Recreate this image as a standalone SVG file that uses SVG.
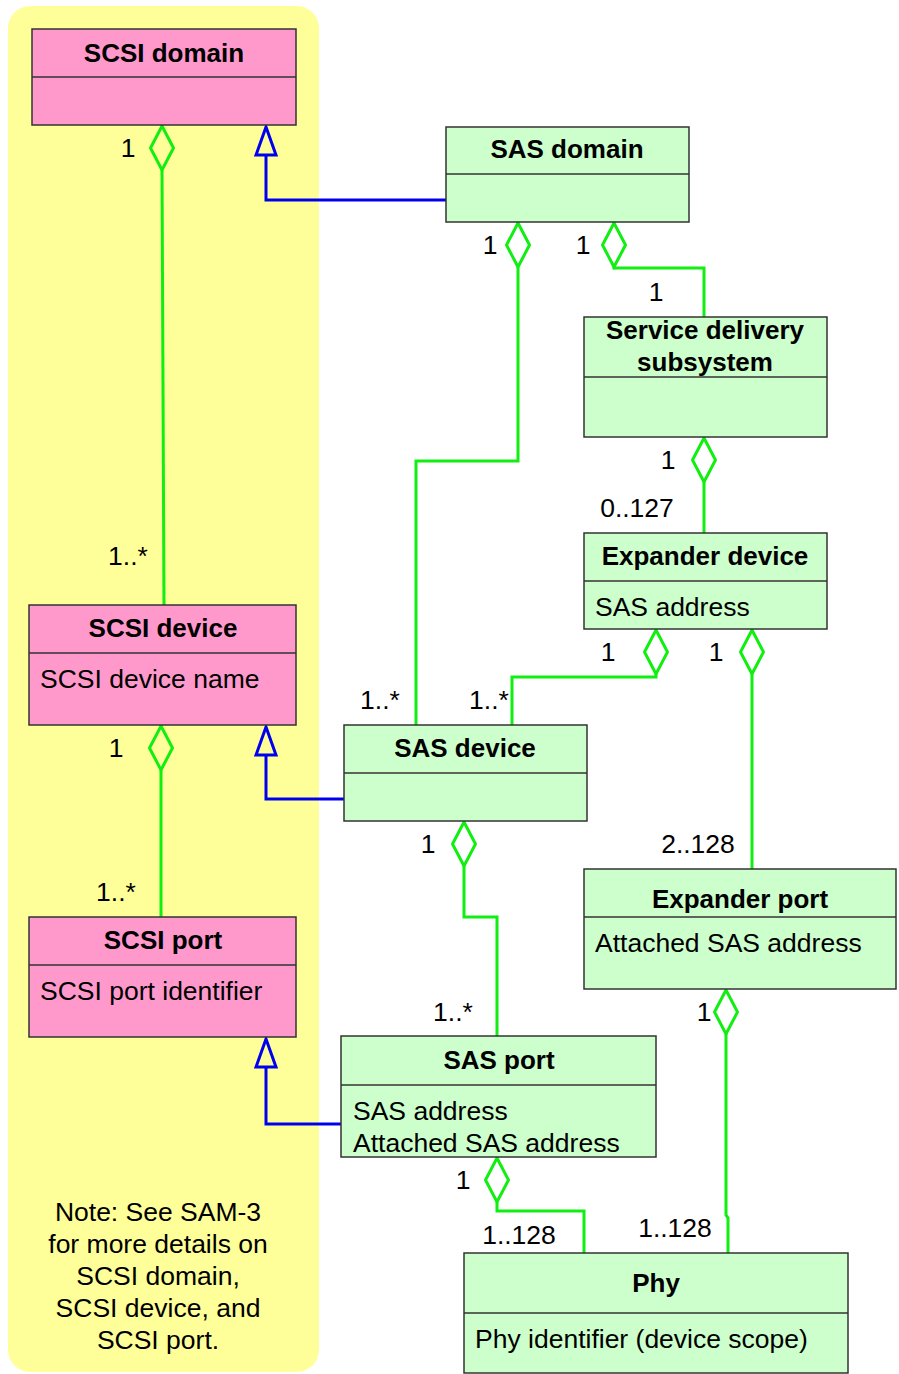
<svg xmlns="http://www.w3.org/2000/svg" width="899" height="1374" viewBox="0 0 899 1374">
<style>
.box{stroke:#333;stroke-width:1.5}
.pink{fill:#FF99CC}
.green{fill:#CCFFCC}
.div{stroke:#333;stroke-width:1.5}
.t{font-family:"Liberation Sans",Arial,sans-serif;font-size:26.5px;fill:#000}
.b{font-weight:bold;text-anchor:middle;font-size:26px}
.m{text-anchor:middle}
.agg{fill:none;stroke:#11EE11;stroke-width:3}
.gen{fill:none;stroke:#0000EE;stroke-width:3}
.dia{fill:none;stroke:#11EE11;stroke-width:3}
.tri{fill:none;stroke:#0000EE;stroke-width:3}
</style>
<rect x="8" y="6" width="311" height="1366" rx="22" fill="#FFFF99"/>
<g id="connectors">
<path class="gen" d="M446,200 H266 V155"/>
<path class="gen" d="M344,799 H266 V755"/>
<path class="gen" d="M341,1124 H266 V1067"/>
<polygon class="tri" points="266,127 256,155 276,155"/>
<polygon class="tri" points="266,727 256,755 276,755"/>
<polygon class="tri" points="266,1039 256,1067 276,1067"/>
<path class="agg" d="M162,170 L164,605"/>
<path class="agg" d="M518,267 V461 H416 V725"/>
<path class="agg" d="M614,267 V268 H704 V317"/>
<path class="agg" d="M704,482 V533"/>
<path class="agg" d="M656,674 V677 H512 V725"/>
<path class="agg" d="M752,674 V869"/>
<path class="agg" d="M464,866 V917 H497 V1036"/>
<path class="agg" d="M161,770 V917"/>
<path class="agg" d="M726,1034 V1215 L728,1218 V1253"/>
<path class="agg" d="M497,1202 V1211 H584 V1253"/>
<polygon class="dia" points="162,126 173.5,148 162,170 150.5,148"/>
<polygon class="dia" points="518,223 529.5,245 518,267 506.5,245"/>
<polygon class="dia" points="614,223 625.5,245 614,267 602.5,245"/>
<polygon class="dia" points="704,438 715.5,460 704,482 692.5,460"/>
<polygon class="dia" points="656,630 667.5,652 656,674 644.5,652"/>
<polygon class="dia" points="752,630 763.5,652 752,674 740.5,652"/>
<polygon class="dia" points="161,726 172.5,748 161,770 149.5,748"/>
<polygon class="dia" points="464,822 475.5,844 464,866 452.5,844"/>
<polygon class="dia" points="726,990 737.5,1012 726,1034 714.5,1012"/>
<polygon class="dia" points="497,1158 508.5,1180 497,1202 485.5,1180"/>
<g class="t m">
<text x="128" y="157">1</text>
<text x="128" y="565">1..*</text>
<text x="490" y="254">1</text>
<text x="583" y="254">1</text>
<text x="656" y="301">1</text>
<text x="668" y="469">1</text>
<text x="637" y="517">0..127</text>
<text x="608" y="661">1</text>
<text x="716" y="661">1</text>
<text x="380" y="709">1..*</text>
<text x="489" y="709">1..*</text>
<text x="116" y="757">1</text>
<text x="428" y="853">1</text>
<text x="698" y="853">2..128</text>
<text x="116" y="901">1..*</text>
<text x="453" y="1021">1..*</text>
<text x="704" y="1021">1</text>
<text x="463" y="1189">1</text>
<text x="519" y="1244">1..128</text>
<text x="675" y="1237">1..128</text>
</g>
</g>
<g id="scsi-domain">
<rect class="box pink" x="32" y="29" width="264" height="96"/>
<line class="div" x1="32" y1="77" x2="296" y2="77"/>
<text class="t b" x="164" y="62">SCSI domain</text>
</g>
<g id="sas-domain">
<rect class="box green" x="446" y="127" width="243" height="95"/>
<line class="div" x1="446" y1="174" x2="689" y2="174"/>
<text class="t b" x="567" y="158">SAS domain</text>
</g>
<g id="service-delivery-subsystem">
<rect class="box green" x="584" y="317" width="243" height="120"/>
<line class="div" x1="584" y1="377" x2="827" y2="377"/>
<text class="t b" x="705" y="339">Service delivery</text>
<text class="t b" x="705" y="371">subsystem</text>
</g>
<g id="expander-device">
<rect class="box green" x="584" y="533" width="243" height="96"/>
<line class="div" x1="584" y1="581" x2="827" y2="581"/>
<text class="t b" x="705" y="565">Expander device</text>
<text class="t" x="595" y="616">SAS address</text>
</g>
<g id="scsi-device">
<rect class="box pink" x="29" y="605" width="267" height="120"/>
<line class="div" x1="29" y1="653" x2="296" y2="653"/>
<text class="t b" x="163" y="637">SCSI device</text>
<text class="t" x="40" y="688">SCSI device name</text>
</g>
<g id="sas-device">
<rect class="box green" x="344" y="725" width="243" height="96"/>
<line class="div" x1="344" y1="773" x2="587" y2="773"/>
<text class="t b" x="465" y="757">SAS device</text>
</g>
<g id="scsi-port">
<rect class="box pink" x="29" y="917" width="267" height="120"/>
<line class="div" x1="29" y1="965" x2="296" y2="965"/>
<text class="t b" x="163" y="949">SCSI port</text>
<text class="t" x="40" y="1000">SCSI port identifier</text>
</g>
<g id="expander-port">
<rect class="box green" x="584" y="869" width="312" height="120"/>
<line class="div" x1="584" y1="917" x2="896" y2="917"/>
<text class="t b" x="740" y="908">Expander port</text>
<text class="t" x="595" y="952">Attached SAS address</text>
</g>
<g id="sas-port">
<rect class="box green" x="341" y="1036" width="315" height="121"/>
<line class="div" x1="341" y1="1085" x2="656" y2="1085"/>
<text class="t b" x="499" y="1069">SAS port</text>
<text class="t" x="353" y="1120">SAS address</text>
<text class="t" x="353" y="1152">Attached SAS address</text>
</g>
<g id="phy">
<rect class="box green" x="464" y="1253" width="384" height="120"/>
<line class="div" x1="464" y1="1313" x2="848" y2="1313"/>
<text class="t b" x="656" y="1292">Phy</text>
<text class="t" x="475" y="1348">Phy identifier (device scope)</text>
</g>
<g id="note" class="t m">
<text x="158" y="1221">Note: See SAM-3</text>
<text x="158" y="1253">for more details on</text>
<text x="158" y="1285">SCSI domain,</text>
<text x="158" y="1317">SCSI device, and</text>
<text x="158" y="1349">SCSI port.</text>
</g>
</svg>
